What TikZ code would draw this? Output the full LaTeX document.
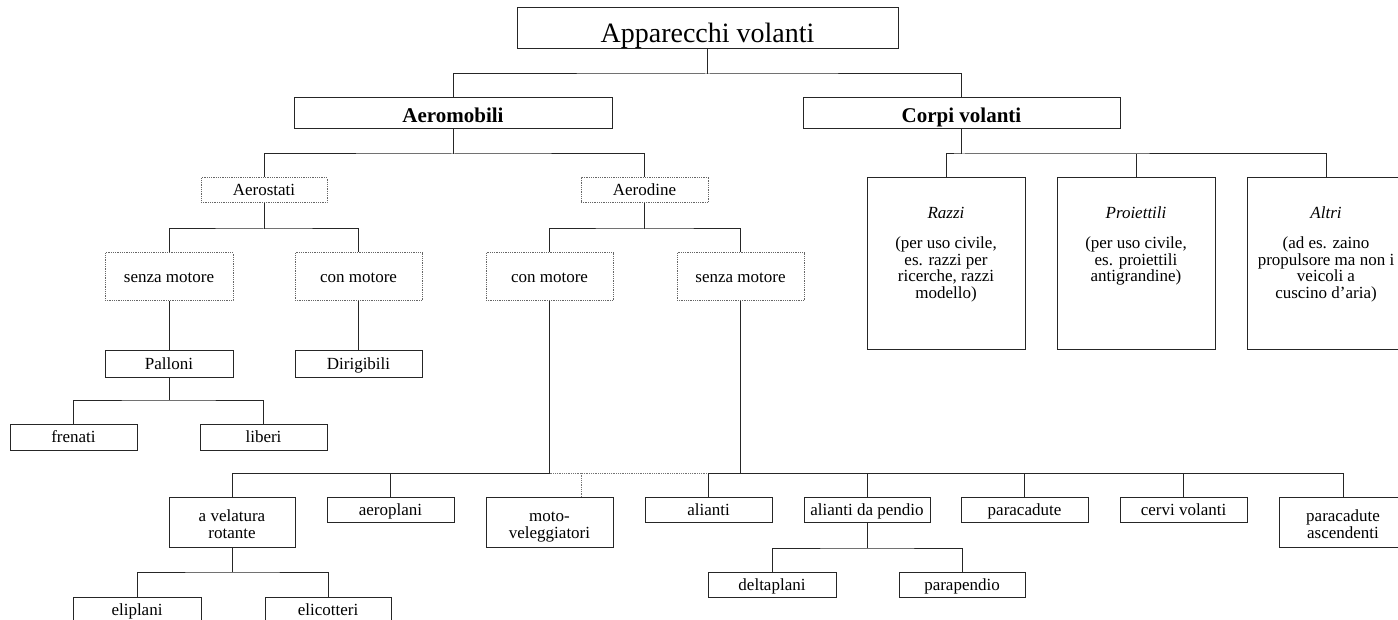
\documentclass[tikz,border=0pt]{standalone}
\usepackage{fontspec}
\setmainfont{Liberation Serif}
\begin{document}
\begin{tikzpicture}[x=1pt,y=-1pt,
  every node/.style={font=\fontsize{17}{16.7}\selectfont, inner sep=0pt, align=center, text=black, text height=14pt, text depth=3pt},
  two/.style={text height=33pt, text depth=0pt},
  sz/.style 2 args={minimum width=#1pt, minimum height=#2pt},
  box/.style={draw=black!85, line width=1pt, rectangle},
  dbox/.style={draw=black!60, line width=1pt, rectangle, dash pattern=on 0.9pt off 0.9pt},
  conn/.style={draw=black!85, line width=1pt},
  dline/.style={draw=black!55, line width=1pt, dash pattern=on 0.9pt off 0.9pt},
  txt/.style={anchor=north, align=center, text height=, text depth=}]
\clip (0,0) rectangle (1398,620);
% level 0-1
\node[box, sz={381}{41}, font=\fontsize{28}{30}\selectfont, text height=31pt, text depth=2pt] (top) at (707.5,28.5) {Apparecchi volanti};
\node[box, sz={318}{31}, font=\fontsize{21}{23}\selectfont\bfseries, text height=20pt, text depth=2pt] (aero) at (453,113.5) {Aeromobili};
\node[box, sz={317}{31}, font=\fontsize{21}{23}\selectfont\bfseries, text height=20pt, text depth=2pt] (corpi) at (961.5,113.5) {Corpi volanti};
% level 2
\node[dbox, sz={126}{25}] (aerostati) at (264,190.5) {Aerostati};
\node[dbox, sz={127}{25}] (aerodine) at (644.5,190.5) {Aerodine};
\node[box, sz={158}{172}] (razzi) at (946,264) {};
\node[box, sz={158}{172}] (proiettili) at (1136,264) {};
\node[box, sz={158}{172}] (altri) at (1326,264) {};
\node[txt] (razzit) at ([yshift=-29.5pt]razzi.north) {\textit{Razzi}\\[13.3pt](per uso civile,\\es. razzi per\\ricerche, razzi\\modello)};
\node[txt] (proiettilit) at ([yshift=-29pt]proiettili.north) {\textit{Proiettili}\\[13.3pt](per uso civile,\\es. proiettili\\antigrandine)};
\node[txt] (altrit) at ([yshift=-29pt]altri.north) {\textit{Altri}\\[13.3pt](ad es. zaino\\propulsore ma non i\\veicoli a\\cuscino d’aria)};
% level 3
\node[dbox, sz={128}{48}] (senza1) at (169,277) {senza motore};
\node[dbox, sz={127}{48}] (con1) at (358.5,277) {con motore};
\node[dbox, sz={127}{48}] (con2) at (549.5,277) {con motore};
\node[dbox, sz={127}{48}] (senza2) at (740.5,277) {senza motore};
% level 4
\node[box, sz={128}{26}] (palloni) at (169,364) {Palloni};
\node[box, sz={127}{26}] (dirigibili) at (358.5,364) {Dirigibili};
\node[box, sz={127}{26}] (frenati) at (73.5,437) {frenati};
\node[box, sz={127}{26}] (liberi) at (263.5,437) {liberi};
% bottom row
\node[box, two, sz={126}{50}] (velatura) at (232,522) {a velatura\\rotante};
\node[box, sz={127}{25}] (aeroplani) at (390.5,509.5) {aeroplani};
\node[box, two, sz={127}{50}] (moto) at (549.5,522) {moto-\\veleggiatori};
\node[box, sz={127}{25}] (alianti) at (708.5,509.5) {alianti};
\node[box, sz={126}{25}] (pendio) at (867,509.5) {alianti da pendio};
\node[box, sz={127}{25}] (paracadute) at (1024.5,509.5) {paracadute};
\node[box, sz={127}{25}] (cervi) at (1183.5,509.5) {cervi volanti};
\node[box, two, sz={127}{50}] (ascend) at (1343,522) {paracadute\\ascendenti};
\node[box, sz={128}{25}] (deltaplani) at (772,584.5) {deltaplani};
\node[box, sz={126}{25}] (parapendio) at (962,584.5) {parapendio};
\node[box, sz={128}{25}] (eliplani) at (137,609.5) {eliplani};
\node[box, sz={126}{25}] (elicotteri) at (328,609.5) {elicotteri};
% junctions
\coordinate (j1) at (707.5,74);
\coordinate (j2) at (453,154);
\coordinate (j3) at (961.5,154);
\coordinate (j4) at (264,229);
\coordinate (j5) at (644.5,229);
\coordinate (j6) at (169,400);
\coordinate (bus) at (0,473);
\coordinate (motoj) at (581,497);
\coordinate (j7) at (232,572);
\coordinate (j8) at (867,548);
% connectors
\draw[conn] (top.south) -- (j1);
\draw[conn] (aero.north) |- (j1) -| (corpi.north);
\draw[conn] (aero.south) -- (j2);
\draw[conn] (aerostati.north) |- (j2) -| (aerodine.north);
\draw[conn] (corpi.south) -- (j3);
\draw[conn] (razzi.north) |- (j3) -| (altri.north);
\draw[conn] (proiettili.north) -- (proiettili.north |- j3);
\draw[conn] (aerostati.south) -- (j4);
\draw[conn] (senza1.north) |- (j4) -| (con1.north);
\draw[conn] (aerodine.south) -- (j5);
\draw[conn] (con2.north) |- (j5) -| (senza2.north);
\draw[conn] (senza1.south) -- (palloni.north);
\draw[conn] (con1.south) -- (dirigibili.north);
\draw[conn] (palloni.south) -- (j6);
\draw[conn] (frenati.north) |- (j6) -| (liberi.north);
\draw[conn] (con2.south) -- (con2.south |- bus) -| (velatura.north);
\draw[conn] (aeroplani.north) -- (aeroplani.north |- bus);
\draw[dline] (con2.south |- bus) -- (alianti.north |- bus);
\draw[dline] (motoj) -- (motoj |- bus);
\draw[conn] (senza2.south) -- (senza2.south |- bus);
\draw[conn] (alianti.north) |- (ascend.north |- bus) -- (ascend.north);
\draw[conn] (pendio.north) -- (pendio.north |- bus);
\draw[conn] (paracadute.north) -- (paracadute.north |- bus);
\draw[conn] (cervi.north) -- (cervi.north |- bus);
\draw[conn] (velatura.south) -- (j7);
\draw[conn] (eliplani.north) |- (j7) -| (elicotteri.north);
\draw[conn] (pendio.south) -- (j8);
\draw[conn] (deltaplani.north) |- (j8) -| (parapendio.north);
\end{tikzpicture}
\end{document}
